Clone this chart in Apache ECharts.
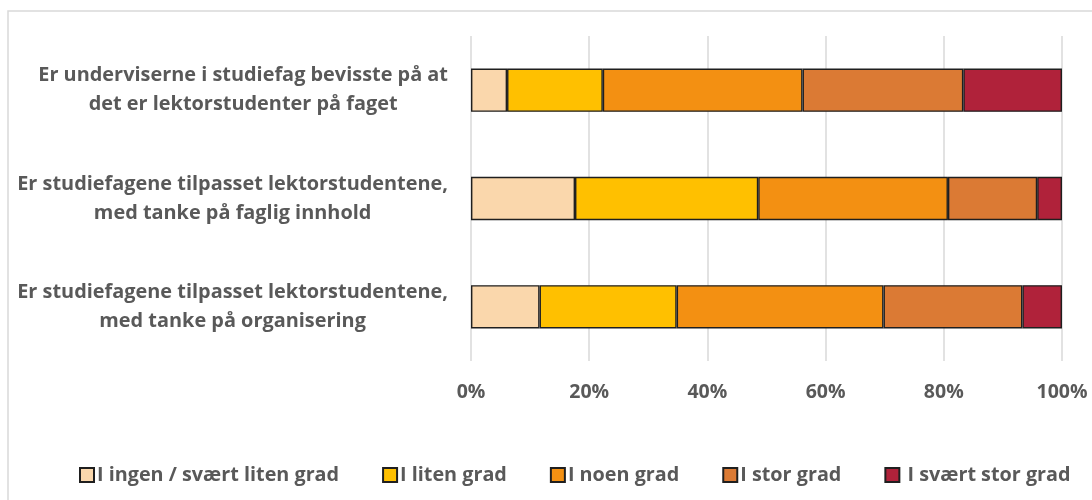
<!DOCTYPE html>
<html>
<head>
<meta charset="utf-8">
<script src="https://cdn.jsdelivr.net/npm/echarts@6/dist/echarts.min.js"></script>
<style>
  html, body { margin: 0; padding: 0; background: #fff; }
  #chart { width: 1092px; height: 500px; }
</style>
</head>
<body>
<div id="chart"></div>
<script>
// spørsmål (kategorier)
const categories = [
  'Er underviserne i studiefag bevisste på at\ndet er lektorstudenter på faget',
  'Er studiefagene tilpasset lektorstudentene,\nmed tanke på faglig innhold',
  'Er studiefagene tilpasset lektorstudentene,\nmed tanke på organisering'
];
const seriesNames = ['I ingen / svært liten grad', 'I liten grad', 'I noen grad', 'I stor grad', ' I svært stor grad'];
// andel i prosent per svaralternativ
const ingenGrad = [6.1, 17.6, 11.6];
const litenGrad = [16.2, 31.0, 23.2];
const noenGrad = [33.8, 32.1, 35.0];
const storGrad = [27.2, 15.1, 23.5];
const svaertStorGrad = [16.7, 4.2, 6.7];
const xTicks = [0, 20, 40, 60, 80, 100];

const colors = ['#FAD7AC', '#FFC000', '#F39012', '#DB7A34', '#B0223A'];
const values = [ingenGrad, litenGrad, noenGrad, storGrad, svaertStorGrad];
const textColor = '#595959';
const font = 'Open Sans';

const myChart = echarts.init(document.getElementById('chart'));
const option = {
  animation: false,
  backgroundColor: '#fff',
  graphic: [{
    type: 'rect',
    z: -10,
    shape: { x: 8, y: 11, width: 1200, height: 600 },
    style: { fill: 'none', stroke: '#d9d9d9', lineWidth: 1.5 }
  }],
  grid: { left: 471, right: 30, top: 36, bottom: 139 },
  legend: {
    left: 74,
    top: 460,
    itemWidth: 14,
    itemHeight: 14,
    itemGap: 43,
    icon: 'rect',
    textStyle: { color: textColor, fontSize: 19.8, fontWeight: 'bold', fontFamily: font, padding: [0, 0, 0, -2] }
  },
  xAxis: {
    type: 'value',
    min: 0,
    max: 100,
    interval: 20,
    axisLine: { show: false },
    axisTick: { show: false },
    splitLine: { lineStyle: { color: '#d9d9d9', width: 1.5 } },
    axisLabel: {
      margin: 21,
      color: textColor,
      fontSize: 19.5,
      fontWeight: 'bold',
      fontFamily: font,
      formatter: v => xTicks.includes(v) ? v + '%' : ''
    }
  },
  yAxis: {
    type: 'category',
    inverse: true,
    data: categories,
    axisLine: { show: false },
    axisTick: { show: false },
    axisLabel: {
      margin: 23,
      formatter: v => '{a|' + v + '}',
      rich: {
        a: {
          align: 'center',
          color: textColor,
          fontSize: 19.9,
          fontWeight: 'bold',
          fontFamily: font,
          lineHeight: 29
        }
      }
    }
  },
  series: seriesNames.map((name, i) => ({
    name: name,
    type: 'bar',
    stack: 'total',
    barCategoryGap: '60%',
    itemStyle: { color: colors[i], borderColor: '#1f1f1f', borderWidth: 1.4 },
    data: values[i]
  }))
};
myChart.setOption(option);
</script>
</body>
</html>
